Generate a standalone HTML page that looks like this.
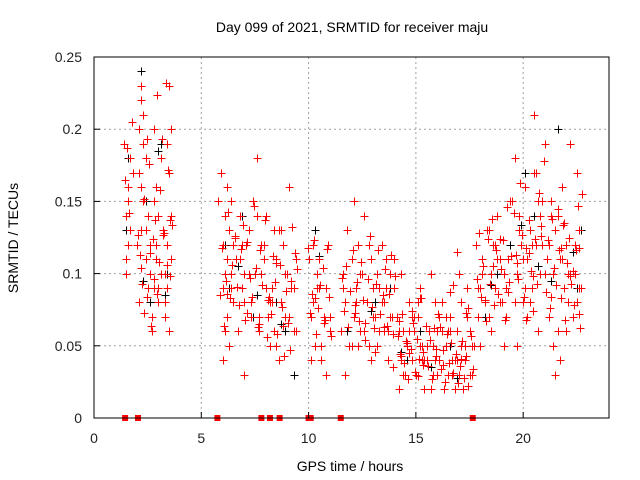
<!DOCTYPE html>
<html><head><meta charset="utf-8"><style>
body{margin:0;background:#fff;}
svg{display:block;font-family:"Liberation Sans",sans-serif;}
</style></head><body>
<svg id="chart" width="640" height="480">
<rect width="640" height="480" fill="#fff"/>
<text x="352" y="32" font-size="14" text-anchor="middle">Day 099 of 2021, SRMTID for receiver maju</text>
<text x="350" y="471" font-size="14" text-anchor="middle">GPS time / hours</text>
<text transform="translate(18,238) rotate(-90)" font-size="14" text-anchor="middle">SRMTID / TECUs</text>
<g id="grid"></g><g id="marks"></g><g id="axes"></g>
</svg>
<script>
const xTicks=[0,5,10,15,20];
const yTicks=[0,0.05,0.1,0.15,0.2,0.25];
const yTickLabels=["0","0.05","0.1","0.15","0.2","0.25"];
const redHours=[1.4,1.5,1.5,1.6,1.6,1.7,1.7,1.5,1.6,1.8,2.0,2.1,2.1,2.2,2.2,2.3,2.3,2.4,2.4,2.5,2.2,2.3,2.4,2.5,2.6,2.1,2.2,2.6,2.7,2.8,2.8,2.9,2.9,3.0,3.0,3.1,3.1,2.7,2.9,3.0,2.8,3.2,3.3,3.3,3.4,3.5,3.5,3.6,3.6,3.4,3.5,3.6,3.3,3.4,
5.8,5.9,6.0,6.0,6.1,6.1,6.2,6.2,6.3,6.3,6.4,6.4,6.5,6.5,6.0,6.1,6.2,6.3,6.4,6.6,6.7,6.8,6.9,7.0,7.0,7.1,7.2,7.3,7.4,6.8,6.9,7.0,7.2,7.3,7.5,7.6,7.7,7.8,7.9,8.0,8.1,7.6,7.8,8.0,7.7,7.9,8.2,8.3,8.4,8.4,8.5,8.6,8.7,8.8,8.9,9.0,9.1,9.2,9.3,9.4,8.3,8.5,8.7,8.9,9.1,9.3,8.2,8.6,9.0,9.4,
10.0,10.1,10.2,10.3,10.4,10.5,10.6,10.7,10.8,10.9,11.0,10.2,10.4,10.6,10.8,11.0,10.1,10.5,10.9,11.5,11.6,11.7,11.8,11.9,12.0,12.1,12.2,12.3,12.4,12.5,12.6,12.7,12.8,12.9,13.0,13.1,13.2,13.3,13.4,13.5,13.6,13.7,13.8,13.9,14.0,11.6,11.8,12.0,12.2,12.4,12.6,12.8,13.0,13.2,13.4,13.6,13.8,14.0,12.1,12.5,12.9,13.3,13.7,13.5,11.7,12.3,
14.1,14.2,14.3,14.4,14.5,14.6,14.7,14.8,14.9,15.0,15.1,15.2,15.3,15.4,15.5,14.2,14.4,14.6,14.8,15.0,15.2,15.4,14.3,14.7,15.1,15.5,14.5,14.9,15.3,
15.6,15.7,15.8,15.9,16.0,16.1,16.2,16.3,16.4,16.5,16.6,16.7,16.8,16.9,17.0,17.1,17.2,17.3,17.4,17.5,17.6,17.7,15.7,15.9,16.1,16.3,16.5,16.7,16.9,17.1,17.3,17.5,16.0,16.4,16.8,17.2,17.6,15.8,16.2,16.6,17.0,17.4,
17.8,17.9,18.0,18.1,18.2,18.3,18.4,18.5,18.6,18.7,18.8,18.9,19.0,19.1,19.2,19.3,19.4,17.9,18.1,18.3,18.5,18.7,18.9,19.1,19.3,18.0,18.4,18.8,19.2,
19.5,19.6,19.7,19.8,19.9,20.0,20.1,20.2,20.3,20.4,20.5,20.6,20.7,20.8,20.9,21.0,19.6,19.8,20.0,20.2,20.4,20.6,20.8,21.0,19.7,20.1,20.5,20.9,20.3,20.7,
21.1,21.2,21.3,21.4,21.5,21.6,21.7,21.8,21.9,22.0,22.1,22.2,22.3,22.4,22.5,22.6,22.7,21.2,21.4,21.6,21.8,22.0,22.2,22.4,22.6,21.3,21.7,22.1,22.5,21.5,21.9,22.3,21.6,22.6,
1.45,1.55,1.65,1.75,2.05,2.15,2.25,2.35,2.45,2.55,2.65,2.75,2.85,2.95,3.05,3.15,3.25,3.35,3.45,3.55,3.65,2.18,2.32,2.48,2.62,2.78,2.92,3.08,3.22,3.38,3.52,
5.85,5.95,6.05,6.15,6.25,6.35,6.45,6.55,6.65,6.75,6.85,6.95,7.05,7.15,7.25,7.35,7.45,7.55,7.65,7.75,7.85,7.95,8.05,8.15,8.25,8.35,8.45,8.55,8.65,8.75,8.85,8.95,9.05,9.15,9.25,9.35,9.45,6.22,6.58,7.12,7.68,8.12,8.48,8.82,9.18,
9.95,10.05,10.15,10.25,10.35,10.45,10.55,10.65,10.75,10.85,10.95,11.05,10.32,10.72,
11.55,11.65,11.75,11.85,11.95,12.05,12.15,12.25,12.35,12.45,12.55,12.65,12.75,12.85,12.95,13.05,13.15,13.25,13.35,13.45,13.55,13.65,13.75,13.85,13.95,14.05,12.18,12.62,13.08,13.52,13.92,
14.15,14.25,14.35,14.45,14.55,14.65,14.75,14.85,14.95,15.05,15.15,15.25,15.35,15.45,14.32,14.58,14.82,15.08,15.32,14.22,14.68,15.18,
15.55,15.65,15.75,15.85,15.95,16.05,16.15,16.25,16.35,16.45,16.55,16.65,16.75,16.85,16.95,17.05,17.15,17.25,17.35,17.45,17.55,17.65,15.92,16.28,16.72,17.08,17.42,16.12,16.58,16.92,17.32,
17.85,17.95,18.05,18.15,18.25,18.35,18.45,18.55,18.65,18.75,18.85,18.95,19.05,19.15,19.25,19.35,19.45,18.22,18.58,18.92,19.28,
19.55,19.65,19.75,19.85,19.95,20.05,20.15,20.25,20.35,20.45,20.55,20.65,20.75,20.85,20.95,19.72,20.12,20.48,20.82,20.28,
21.05,21.15,21.25,21.35,21.45,21.55,21.65,21.75,21.85,21.95,22.05,22.15,22.25,22.35,22.45,22.55,22.65,22.75,21.32,21.78,22.18,22.62,21.48,21.92,22.42];
const redValues=[0.19,0.14,0.10,0.16,0.12,0.18,0.13,0.11,0.15,0.17,0.12,0.20,0.17,0.22,0.23,0.15,0.19,0.11,0.13,0.09,0.16,0.21,0.18,0.14,0.10,0.08,0.13,0.12,0.07,0.20,0.09,0.16,0.11,0.08,0.14,0.18,0.10,0.06,0.12,0.09,0.15,0.13,0.07,0.10,0.12,0.23,0.17,0.20,0.11,0.09,0.06,0.14,0.08,0.19,
0.15,0.17,0.12,0.09,0.14,0.06,0.16,0.11,0.13,0.05,0.10,0.15,0.08,0.12,0.04,0.10,0.07,0.13,0.09,0.11,0.06,0.14,0.12,0.08,0.10,0.12,0.10,0.07,0.15,0.11,0.09,0.03,0.13,0.08,0.10,0.14,0.06,0.12,0.11,0.09,0.07,0.18,0.10,0.14,0.07,0.12,0.05,0.09,0.13,0.06,0.11,0.04,0.08,0.12,0.07,0.10,0.16,0.09,0.06,0.11,0.08,0.05,0.13,0.10,0.07,0.09,
0.08,0.13,0.10,0.06,0.11,0.07,0.12,0.05,0.09,0.11,0.04,0.07,0.09,0.12,0.06,0.08,0.10,0.05,0.03,0.07,0.04,0.09,0.12,0.06,0.10,0.08,0.13,0.05,0.11,0.07,0.09,0.12,0.06,0.10,0.14,0.08,0.05,0.11,0.09,0.07,0.10,0.06,0.12,0.08,0.09,0.06,0.10,0.07,0.11,0.09,0.13,0.05,0.08,0.10,0.06,0.12,0.07,0.05,0.08,0.11,0.07,0.09,0.15,0.10,0.04,0.09,
0.04,0.06,0.03,0.05,0.07,0.02,0.04,0.06,0.03,0.05,0.08,0.04,0.06,0.03,0.07,0.09,0.05,0.02,0.04,0.06,0.03,0.05,0.07,0.03,0.05,0.04,0.10,0.06,0.08,
0.05,0.03,0.07,0.04,0.06,0.02,0.05,0.08,0.03,0.04,0.06,0.02,0.05,0.03,0.07,0.04,0.02,0.06,0.03,0.05,0.02,0.04,0.09,0.06,0.03,0.05,0.10,0.04,0.07,0.02,0.06,0.03,0.04,0.08,0.05,0.03,0.06,0.07,0.04,0.02,0.05,0.03,
0.08,0.06,0.10,0.07,0.12,0.09,0.05,0.11,0.08,0.13,0.07,0.10,0.12,0.09,0.14,0.11,0.08,0.05,0.09,0.11,0.15,0.07,0.10,0.13,0.06,0.12,0.08,0.10,0.11,
0.09,0.13,0.11,0.07,0.15,0.18,0.10,0.14,0.12,0.08,0.16,0.11,0.13,0.09,0.17,0.12,0.06,0.10,0.15,0.19,0.08,0.13,0.11,0.07,0.12,0.17,0.14,0.10,0.05,0.09,
0.21,0.12,0.08,0.15,0.11,0.07,0.14,0.10,0.13,0.06,0.11,0.16,0.09,0.12,0.08,0.10,0.07,0.10,0.17,0.13,0.09,0.12,0.05,0.14,0.11,0.06,0.19,0.12,0.09,0.15,0.04,0.10,0.08,0.03,
0.135,0.102,0.145,0.118,0.165,0.187,0.142,0.205,0.127,0.113,0.093,0.152,0.084,0.176,0.064,0.124,0.137,0.086,0.108,0.193,0.128,0.232,0.172,0.098,0.134,0.104,0.073,0.193,0.114,0.096,0.224,
0.158,0.127,0.106,0.137,0.085,0.118,0.064,0.095,0.143,0.083,0.106,0.126,0.091,0.078,0.117,0.134,0.068,0.122,0.097,0.084,0.147,0.104,0.063,0.116,0.092,0.137,0.056,0.084,0.072,0.112,0.094,0.058,0.106,0.077,0.043,0.088,0.066,0.047,0.132,0.114,0.103,0.086,0.125,0.073,0.065,0.082,
0.107,0.064,0.095,0.118,0.073,0.086,0.123,0.058,0.076,0.092,0.104,0.068,0.117,0.084,
0.057,0.083,0.066,0.097,0.074,0.105,0.063,0.088,0.116,0.073,0.094,0.067,0.108,0.082,0.054,0.096,0.126,0.077,0.062,0.093,0.116,0.072,0.085,0.103,0.064,0.086,0.113,0.058,0.098,0.078,0.066,
0.046,0.063,0.035,0.057,0.044,0.072,0.038,0.053,0.027,0.048,0.066,0.032,0.055,0.041,0.083,0.037,0.064,0.043,0.052,0.074,0.029,0.046,
0.067,0.045,0.083,0.036,0.054,0.027,0.062,0.043,0.072,0.034,0.047,0.025,0.058,0.038,0.052,0.031,0.044,0.024,0.036,0.053,0.028,0.043,0.076,0.057,0.034,0.048,0.037,0.092,0.041,0.022,0.063,
0.087,0.115,0.073,0.096,0.128,0.084,0.105,0.067,0.124,0.093,0.138,0.078,0.116,0.086,0.103,0.123,0.068,0.146,0.094,0.112,0.082,
0.105,0.124,0.087,0.142,0.113,0.096,0.163,0.127,0.084,0.118,0.137,0.102,0.074,0.124,0.093,0.156,0.133,0.178,0.107,0.068,
0.098,0.126,0.114,0.087,0.123,0.076,0.138,0.104,0.092,0.116,0.083,0.134,0.068,0.107,0.125,0.093,0.078,0.116,0.147,0.062,0.155,0.084,0.118,0.098,0.072];
const blackHours=[1.5,1.6,2.2,2.4,2.6,2.9,3.1,3.4,6.1,6.3,6.9,7.4,7.9,8.5,8.9,9.3,10.3,10.7,11.8,12.5,13.1,13.8,14.6,15.2,16.0,16.6,17.2,18.2,18.8,19.4,20.1,20.5,21.0,21.6,22.0,22.5,22.7,2.3,3.0,3.3,6.7,7.6,8.7,10.5,12.9,14.3,15.7,16.9,18.5,19.9,20.7,21.3,22.3];
const blackValues=[0.13,0.18,0.24,0.15,0.08,0.12,0.19,0.10,0.12,0.09,0.14,0.07,0.11,0.08,0.06,0.03,0.13,0.07,0.06,0.10,0.08,0.09,0.04,0.06,0.03,0.05,0.02,0.07,0.10,0.12,0.17,0.14,0.10,0.20,0.12,0.09,0.13,0.095,0.185,0.085,0.105,0.085,0.065,0.112,0.074,0.046,0.035,0.028,0.092,0.134,0.105,0.095,0.115];
const zeroHours=[1.45,2.05,5.75,7.8,8.2,8.65,10.0,10.1,11.5,17.65];

const X0=94,X1=609,Y0=418,Y1=57,XMAX=24,YMAX=0.25;
const sx=h=>X0+(X1-X0)*h/XMAX;
const sy=v=>Y0-(Y0-Y1)*v/YMAX;
const NS="http://www.w3.org/2000/svg";
function mk(tag,attrs,parent){const e=document.createElementNS(NS,tag);for(const k in attrs)e.setAttribute(k,attrs[k]);parent.appendChild(e);return e;}
const grid=document.getElementById('grid'),marks=document.getElementById('marks'),axes=document.getElementById('axes');
xTicks.forEach(t=>{
  const x=sx(t);
  if(t>0){const g=mk('line',{x1:x,x2:x,y1:Y1,y2:Y0,stroke:'#a0a0a0','stroke-dasharray':'2,3'},grid);
  
  }
  const tk=mk('line',{x1:x,x2:x,y1:Y0,y2:Y0-6,stroke:'#000'},axes);
  
  
  const tl=mk('text',{x:x,y:Y0+25,'font-size':14,'text-anchor':'middle',fill:'#222'},axes);tl.textContent=t;
  
  
});
yTicks.forEach((t,i)=>{
  const y=sy(t);
  if(t>0){const g=mk('line',{x1:X0,x2:X1,y1:y,y2:y,stroke:'#a0a0a0','stroke-dasharray':'2,3'},grid);
  
  }
  const tk=mk('line',{x1:X0,x2:X0+6,y1:y,y2:y,stroke:'#000'},axes);
  
  
  const tl=mk('text',{x:X0-12,y:y+5,'font-size':14,'text-anchor':'end',fill:'#222'},axes);tl.textContent=yTickLabels[i];
  
  
});
const frame=mk('rect',{x:X0,y:Y1,width:X1-X0,height:Y0-Y1,fill:'none',stroke:'#000'},axes);


function plus(h,v,c,name){
  const x=Math.round(sx(h))+0.5,y=Math.round(sy(v))+0.5;
  const p=mk('path',{d:`M${x-4},${y}H${x+4}M${x},${y-4}V${y+4}`,stroke:c,'stroke-width':1},marks);
  
  
}
blackHours.forEach((h,i)=>plus(h,blackValues[i],'#000','black-point'));
redHours.forEach((h,i)=>plus(h,redValues[i],'#f00','srmtid-point'));
zeroHours.forEach(h=>{
  const r=mk('rect',{x:sx(h)-3,y:Y0-3,width:6,height:6,fill:'#f00'},marks);
  
  
});
</script>
</body></html>
